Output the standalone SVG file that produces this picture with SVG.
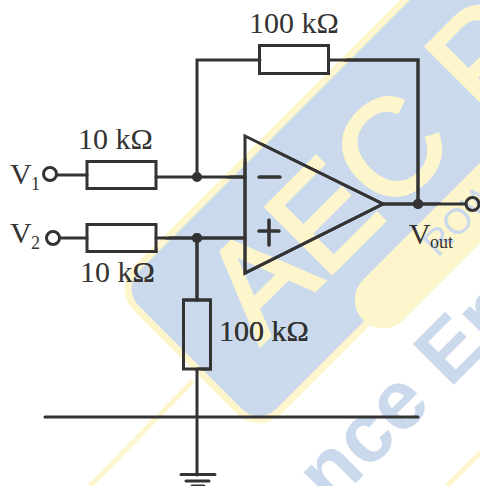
<svg xmlns="http://www.w3.org/2000/svg" xmlns:xlink="http://www.w3.org/1999/xlink" width="480" height="486" viewBox="0 0 480 486">
<style>
.w{fill:none;stroke:currentColor;stroke-width:3;stroke-linecap:round;stroke-linejoin:miter}
.d{fill:currentColor}
.t{fill:currentColor;font-family:"Liberation Serif",serif;font-size:30px}
.s{fill:currentColor;font-family:"Liberation Serif",serif;font-size:18px}
.wm{font-family:"Liberation Sans",sans-serif}
</style>
<defs>
<clipPath id="blue"><path d="M405 0H480V163L363 280L372 318L288 402Q262 424 233 403L130 300Q120 285 133 272Z"/></clipPath>
</defs>
<rect width="480" height="486" fill="#fff"/>
<g id="watermark">
<path d="M90 486L193 381M447 486L480 453" fill="none" stroke="#fdf5cc" stroke-width="5"/>
<g transform="rotate(-45)">
<rect x="-121.6" y="286.4" width="600" height="201.6" rx="28" fill="#cbd9ec" stroke="#fdf5cc" stroke-width="7"/>
<line x1="59" y1="483" x2="560" y2="483" stroke="#fdf5cc" stroke-width="57" stroke-linecap="round"/>
<text class="wm" x="-60" y="428" font-size="136" fill="#fdf5cc" stroke="#fdf5cc" stroke-width="3.500">AEC P</text>
<text class="wm" x="-125" y="593" font-size="84" font-weight="700" fill="#cbd9ec">nce En</text>
<text class="wm" x="127" y="492" font-size="36" fill="#cbd9ec">ROW</text>
</g>
</g>
<g id="circuit" color="#333">
<g id="connectors">
<path class="w" d="M57 175H87M156 177H245M197 177V60H260M329 60H418V204M383 204H466M60 238H87M156 238H245M197 238V300M197 369V475M45 417H418"/>
</g>
<g id="R1"><rect class="w" x="87" y="161.500" width="69" height="27"/><text class="t" x="78" y="149">10 kΩ</text></g>
<g id="R2"><rect class="w" x="87" y="224.500" width="69" height="27"/><text class="t" x="80" y="282">10 kΩ</text></g>
<g id="R3"><rect class="w" x="259.500" y="45.500" width="69" height="28"/><text class="t" x="249" y="33">100 kΩ</text></g>
<g id="R4"><rect class="w" x="183.500" y="300" width="27" height="69"/><text class="t" x="219" y="341">100 kΩ</text></g>
<g id="opamp"><path class="w" d="M245 136L383 204L245 273Z"/><path class="w" d="M259 177H280M259 231H279M269 220V245"/></g>
<g id="V1"><circle class="w" cx="50" cy="174" r="6.500"/><text class="t" x="10" y="184">V</text><text class="s" x="31" y="190">1</text></g>
<g id="V2"><circle class="w" cx="53" cy="238" r="6.500"/><text class="t" x="10" y="243">V</text><text class="s" x="31" y="249">2</text></g>
<g id="Vout"><circle class="w" cx="472.500" cy="204" r="6.500"/><text class="t" x="409" y="244">V</text><text class="s" x="430" y="248">out</text></g>
<g id="J1"><circle class="d" cx="197" cy="177" r="5"/></g>
<g id="J2"><circle class="d" cx="197" cy="238" r="5"/></g>
<g id="J3"><circle class="d" cx="418" cy="204" r="5"/></g>
<g id="ground"><path class="w" d="M181 474.500H215M186 481H209M192 486H204"/></g>
</g>
<use xlink:href="#circuit" href="#circuit" clip-path="url(#blue)" style="color:#0a1530"/>
</svg>
